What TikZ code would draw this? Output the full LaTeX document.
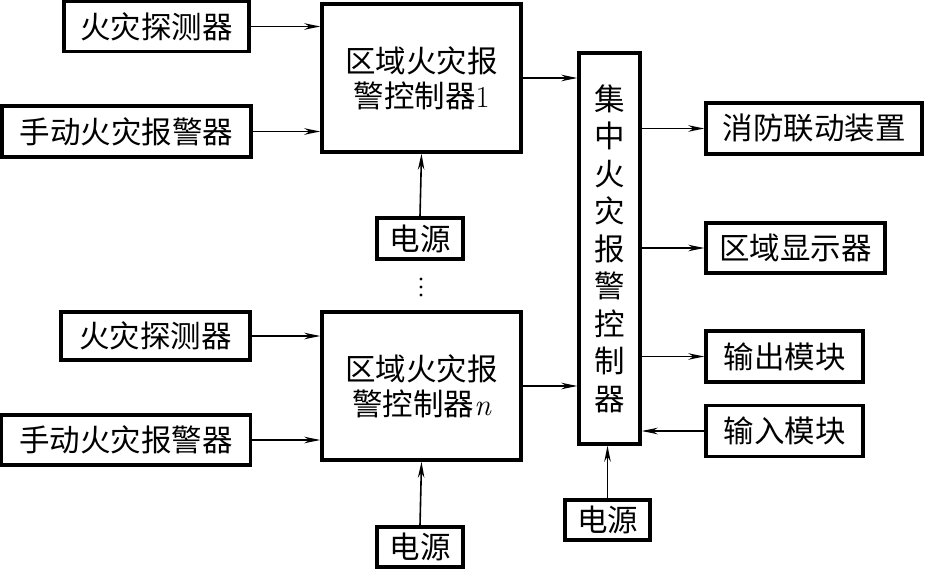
\documentclass[tikz,border=0pt]{standalone}
\usepackage{fontspec}
\newfontfamily\cjk{Noto Sans CJK SC}
\usetikzlibrary{arrows.meta}
\begin{document}
\begin{tikzpicture}[x=1pt,y=-1pt,
  box/.style={draw, line width=3.5pt, inner sep=0pt, font=\cjk\fontsize{30.5}{35}\selectfont, align=center},
  arr/.style={line width=1.6pt, -{Stealth[length=16pt,width=6.5pt]}},
  dotc/.style={fill, circle, inner sep=0pt, minimum size=3.2pt}]
\useasboundingbox (0,0) rectangle (926,569);
% left sources
\node[box, minimum width=185pt, minimum height=50pt] (det1) at (156.5,26.5) {火灾探测器};
\node[box, minimum width=249pt, minimum height=51pt] (man1) at (126.5,131.5) {手动火灾报警器};
\node[box, minimum width=189pt, minimum height=48pt] (det2) at (155.5,336) {火灾探测器};
\node[box, minimum width=249pt, minimum height=50pt] (man2) at (126,440) {手动火灾报警器};
% zone controllers
\node[box, minimum width=199pt, minimum height=148pt] (c1) at (421.5,78) {区域火灾报\\警控制器{\rmfamily 1}};
\node[box, minimum width=199pt, minimum height=148pt] (cn) at (421.5,386) {区域火灾报\\警控制器{\rmfamily\itshape n}};
\node[box, minimum width=86pt, minimum height=41pt] (p1) at (420,238.5) {电源};
\node[box, minimum width=86pt, minimum height=40pt] (pn) at (420,547) {电源};
% dots
\node[dotc] (d1) at (421,279) {};
\node[dotc] (d2) at (421,287) {};
\node[dotc] (d3) at (421,295) {};
% central
\node[box, minimum width=61pt, minimum height=391pt, font=\cjk\fontsize{30.5}{37.5}\selectfont] (cc) at (609.5,248.5) {集\\中\\火\\灾\\报\\警\\控\\制\\器};
\node[box, minimum width=85pt, minimum height=40pt] (pc) at (607.5,520) {电源};
% outputs
\node[box, minimum width=216pt, minimum height=51pt] (xf) at (814,128.5) {消防联动装置};
\node[box, minimum width=179pt, minimum height=50pt] (qy) at (795.5,248) {区域显示器};
\node[box, minimum width=157pt, minimum height=51pt] (sc) at (784.5,356.5) {输出模块};
\node[box, minimum width=157pt, minimum height=51pt] (sr) at (784.5,431) {输入模块};
% connectors
\draw[arr] (det1.east) -- (det1.east -| c1.west);
\draw[arr] (man1.east) -- (man1.east -| c1.west);
\draw[arr] (det2.east) -- (det2.east -| cn.west);
\draw[arr] (man2.east) -- (man2.east -| cn.west);
\draw[arr] (p1.north) -- (c1.south);
\draw[arr] (pn.north) -- (cn.south);
\draw[arr] (c1.east) -- (c1.east -| cc.west);
\draw[arr] (cn.east) -- (cn.east -| cc.west);
\draw[arr] (cc.east |- xf.west) -- (xf.west);
\draw[arr] (cc.east |- qy.west) -- (qy.west);
\draw[arr] (cc.east |- sc.west) -- (sc.west);
\draw[arr] (sr.west) -- (sr.west -| cc.east);
\draw[arr] (pc.north) -- (pc.north |- cc.south);
\end{tikzpicture}
\end{document}
